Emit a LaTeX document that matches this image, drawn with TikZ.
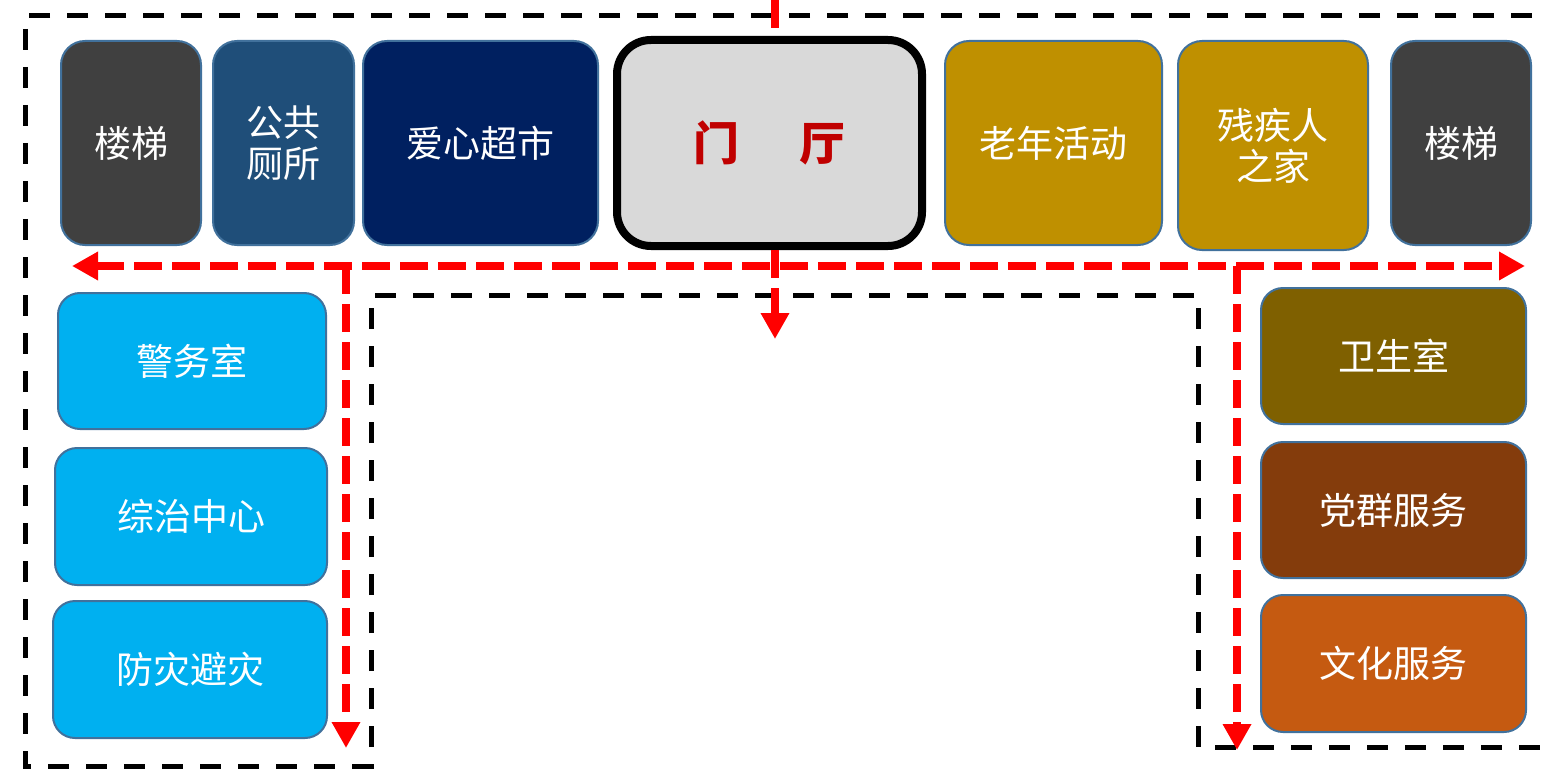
\documentclass[tikz,border=0pt]{standalone}
\usepackage{fontspec}
\setmainfont{Noto Sans CJK SC}
\usetikzlibrary{arrows.meta}
\definecolor{edgeblue}{HTML}{41719C}
\definecolor{stairgray}{HTML}{404040}
\definecolor{toiletblue}{HTML}{1F4E79}
\definecolor{navy}{HTML}{002060}
\definecolor{hallgray}{HTML}{D9D9D9}
\definecolor{hallred}{HTML}{C00000}
\definecolor{gold}{HTML}{BF9000}
\definecolor{skyblue}{HTML}{00B0F0}
\definecolor{olive}{HTML}{7F6000}
\definecolor{rust}{HTML}{843C0C}
\definecolor{orangebrown}{HTML}{C55A11}
\definecolor{routered}{HTML}{FF0000}

\begin{document}
\begin{tikzpicture}[
    x=1pt, y=-1pt,
    room/.style={draw=edgeblue, line width=2pt, rounded corners=24pt, text=white, align=center,
        inner sep=0pt, font=\fontsize{37}{41}\selectfont},
    tall/.style={room, minimum height=204pt},
    side/.style={room, rounded corners=22pt, minimum width=268pt, minimum height=136pt},
    hallbox/.style={draw=black, line width=8pt, rounded corners=34pt, fill=hallgray, text=hallred,
        minimum width=305pt, minimum height=206pt, font=\fontsize{46}{50}\selectfont\bfseries},
    wall/.style={line width=5pt, dash pattern=on 21pt off 17pt},
    route/.style={routered, line width=8pt, dash pattern=on 28pt off 10pt},
    >={Triangle[width=27pt,length=26pt]}
]
\useasboundingbox (0,0) rectangle (1546,770);

% outer wall
\draw[wall] (1570,16) -- (25,16) -- (25,766) -- (371,766) -- (371,295)
    -- (1198,295) -- (1198,747) -- (1570,747);

% top row
\node[tall, fill=stairgray, minimum width=140pt] (stairL) at (131,143) {楼梯};
\node[tall, fill=toiletblue, minimum width=141pt] (toilet) at (283.5,143) {公共\\厕所};
\node[tall, fill=navy, minimum width=235pt] (market) at (480.5,143) {爱心超市};
\node[hallbox] (hall) at (769.5,143) {门\hspace{1.3em}厅};
\node[tall, fill=gold, minimum width=217pt] (elder) at (1053.5,143) {老年活动};
\node[tall, fill=gold, minimum width=190pt, minimum height=209pt] (disabled) at (1273,145.5) {残疾人\\之家};
\node[tall, fill=stairgray, minimum width=140pt] (stairR) at (1461,143) {楼梯};

% left column
\node[side, fill=skyblue] (police) at (192,361) {警务室};
\node[side, fill=skyblue, minimum width=272pt, minimum height=137pt] (govern) at (191,516.5) {综治中心};
\node[side, fill=skyblue, minimum width=274pt, minimum height=137pt] (disaster) at (190,669.5) {防灾避灾};

% right column
\node[side, fill=olive, minimum width=265pt] (clinic) at (1393.5,356) {卫生室};
\node[side, fill=rust, minimum width=265pt] (party) at (1393.5,510) {党群服务};
\node[side, fill=orangebrown, minimum width=265pt, minimum height=137pt] (culture) at (1393.5,663.5) {文化服务};

% routes
\coordinate (entry) at (775,0);
\coordinate (drop) at (775,339);
\coordinate (corW) at (72,266);
\coordinate (corE) at (1525,266);
\coordinate (splitL) at (346,266);
\coordinate (endL) at (346,748);
\coordinate (splitR) at (1237,266);
\coordinate (endR) at (1237,750);

\draw[route] (entry) -- (entry |- hall.north);
\draw[route, ->] (entry |- hall.south) -- (drop);
\draw[route, <->] (corW) -- (corE);
\draw[route, ->] (splitL) -- (endL);
\draw[route, ->] (splitR) -- (endR);

\end{tikzpicture}
\end{document}
